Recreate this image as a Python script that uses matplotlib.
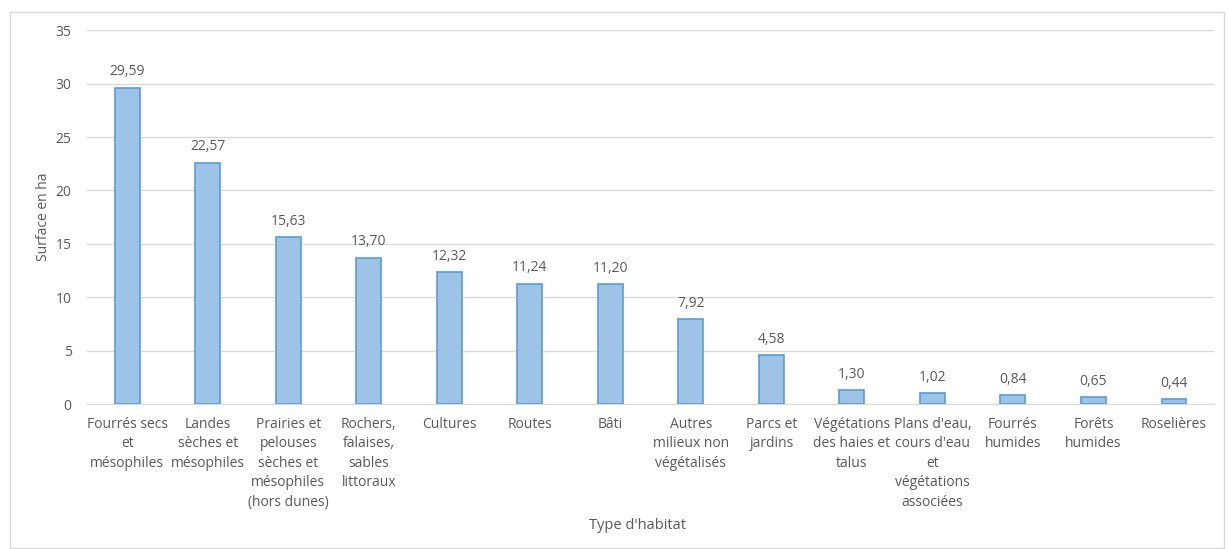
import matplotlib
matplotlib.use("Agg")
import matplotlib.pyplot as plt
from matplotlib.patches import Rectangle

habitats = [
    "Fourrés secs\net\nmésophiles",
    "Landes\nsèches et\nmésophiles",
    "Prairies et\npelouses\nsèches et\nmésophiles\n(hors dunes)",
    "Rochers,\nfalaises,\nsables\nlittoraux",
    "Cultures",
    "Routes",
    "Bâti",
    "Autres\nmilieux non\nvégétalisés",
    "Parcs et\njardins",
    "Végétations\ndes haies et\ntalus",
    "Plans d'eau,\ncours d'eau\net\nvégétations\nassociées",
    "Fourrés\nhumides",
    "Forêts\nhumides",
    "Roselières",
]
surfaces = [29.59, 22.57, 15.63, 13.70, 12.32, 11.24, 11.20, 7.92, 4.58, 1.30, 1.02, 0.84, 0.65, 0.44]

gris = "#595959"
plt.rcParams["font.family"] = ["Open Sans", "DejaVu Sans"]

fig = plt.figure(figsize=(12.28, 5.49), dpi=100)
ax = fig.add_axes([0.0708, 0.264, 0.918, 0.681])

x = list(range(len(surfaces)))
ax.bar(x, surfaces, width=0.31, color="#9DC3E6", edgecolor="#5B9BD5", linewidth=1.2, zorder=3)

for i, v in zip(x, surfaces):
    ax.text(i, v + 0.8, f"{v:.2f}".replace(".", ","), ha="center", va="bottom",
            fontsize=10, color=gris)

ax.set_ylim(0, 35)
ax.set_yticks(range(0, 36, 5))
ax.set_xlim(-0.5, len(surfaces) - 0.5)
ax.set_xticks(x)
ax.set_xticklabels(habitats, fontsize=10, color=gris, linespacing=1.42)
ax.tick_params(axis="y", labelsize=10, labelcolor=gris, length=0, pad=11)
ax.tick_params(axis="x", length=0, pad=9)
ax.yaxis.grid(True, color="#D9D9D9", linewidth=1, zorder=0)
for s in ["top", "right", "left"]:
    ax.spines[s].set_visible(False)
ax.spines["bottom"].set_color("#D9D9D9")

ax.set_ylabel("Surface en ha", fontsize=10, color=gris, labelpad=3)
fig.text(0.519, 0.043, "Type d'habitat", ha="center", va="center", fontsize=10.5, color=gris)

fig.patches.append(Rectangle((0.008, 0.002), 0.989, 0.976, transform=fig.transFigure,
                             fill=False, edgecolor="#D9D9D9", linewidth=1))

fig.savefig("out.png", dpi=100)
